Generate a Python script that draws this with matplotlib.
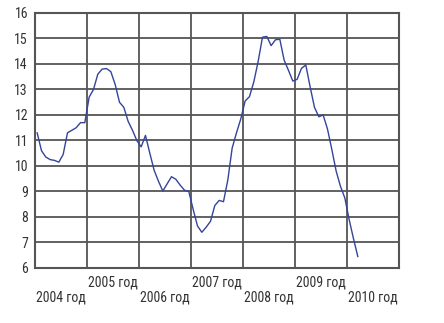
import numpy as np
import matplotlib
matplotlib.use("Agg")
import matplotlib.pyplot as plt
import matplotlib.transforms as mtransforms

plt.rcParams["font.family"] = ["Roboto Condensed", "DejaVu Sans"]

# monthly values, Jan 2004 .. Mar 2010
values = [
    11.3, 10.6, 10.35, 10.25, 10.22, 10.15, 10.45, 11.3, 11.4, 11.5, 11.7, 11.7,
    12.7, 13.0, 13.6, 13.8, 13.82, 13.7, 13.2, 12.5, 12.3, 11.75, 11.4, 11.0,
    10.75, 11.2, 10.5, 9.83, 9.4, 9.02, 9.3, 9.58, 9.48, 9.25, 9.05, 9.0,
    8.3, 7.65, 7.4, 7.6, 7.83, 8.45, 8.65, 8.6, 9.45, 10.7, 11.3, 11.85,
    12.55, 12.72, 13.3, 14.1, 15.05, 15.08, 14.72, 14.95, 14.97, 14.15, 13.75, 13.33,
    13.4, 13.83, 13.96, 13.1, 12.3, 11.93, 12.0, 11.45, 10.65, 9.8, 9.2, 8.75,
    7.9, 7.15, 6.45,
]
start_year = 2004
years = [2004, 2005, 2006, 2007, 2008, 2009, 2010]
year_labels = [f"{y} год" for y in years]
yticks = list(range(6, 17))

x = start_year + (np.arange(len(values)) + 0.5) / 12

fig = plt.figure(figsize=(4.44, 3.23), dpi=100)
ax = fig.add_axes([0.0788, 0.1703, 0.8198, 0.7895])

grid_c = "#555555"
ax.plot(x, values, color="#34449a", lw=1.0, zorder=3)

ax.set_xlim(2004, 2011)
ax.set_ylim(6, 16)
ax.set_yticks(yticks)
ax.set_xticks(range(2005, 2011))
ax.set_xticklabels([])
ax.grid(True, color=grid_c, lw=1.3)
ax.tick_params(length=0, labelsize=10, colors="#333333", pad=5)
for s in ax.spines.values():
    s.set_color(grid_c)
    s.set_linewidth(1.5)

# staggered year labels under each column
trans = mtransforms.blended_transform_factory(ax.transData, ax.transAxes)
for i, (yr, lab) in enumerate(zip(years, year_labels)):
    yoff = -0.055 if i % 2 else -0.114
    ax.text(yr + 0.5, yoff, lab, transform=trans, ha="center", va="center",
            fontsize=10, color="#333333")

fig.savefig("out.png", dpi=100)
